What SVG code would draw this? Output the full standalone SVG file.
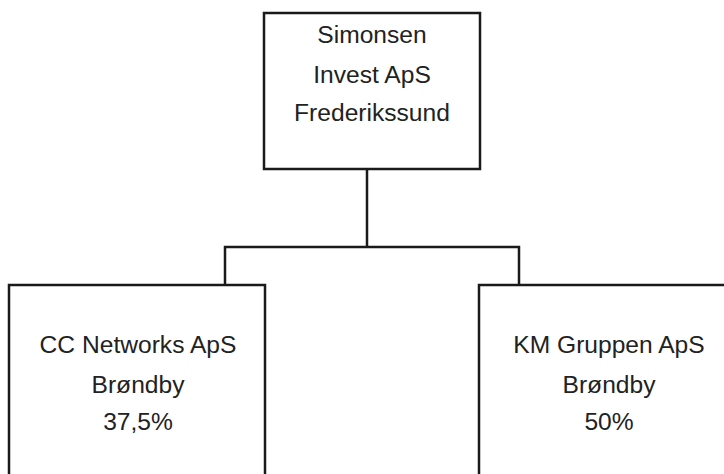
<svg xmlns="http://www.w3.org/2000/svg" width="724" height="474" viewBox="0 0 724 474">
<style>
.box{fill:#fff;stroke:#1a1a1a;stroke-width:2.5}
.ln{fill:none;stroke:#1a1a1a;stroke-width:2.5}
text{font-family:"Liberation Sans",Arial,sans-serif;font-size:24.6px;fill:#222;text-anchor:middle}
</style>
<rect width="724" height="474" fill="#fff"/>
<g id="connectors">
<path class="ln" d="M367,169 V247 M225,285 V247 H519 V285"/>
</g>
<g id="simonsen">
<rect class="box" x="264" y="13" width="216" height="156"/>
<text x="372" y="43">Simonsen</text>
<text x="372" y="83">Invest ApS</text>
<text x="372" y="121">Frederikssund</text>
</g>
<g id="cc-networks">
<rect class="box" x="9" y="285" width="256" height="200"/>
<text x="138" y="353">CC Networks ApS</text>
<text x="138" y="393">Brøndby</text>
<text x="138" y="430">37,5%</text>
</g>
<g id="km-gruppen">
<rect class="box" x="479" y="285" width="256" height="200"/>
<text x="609" y="353">KM Gruppen ApS</text>
<text x="609" y="393">Brøndby</text>
<text x="609" y="430">50%</text>
</g>
</svg>
